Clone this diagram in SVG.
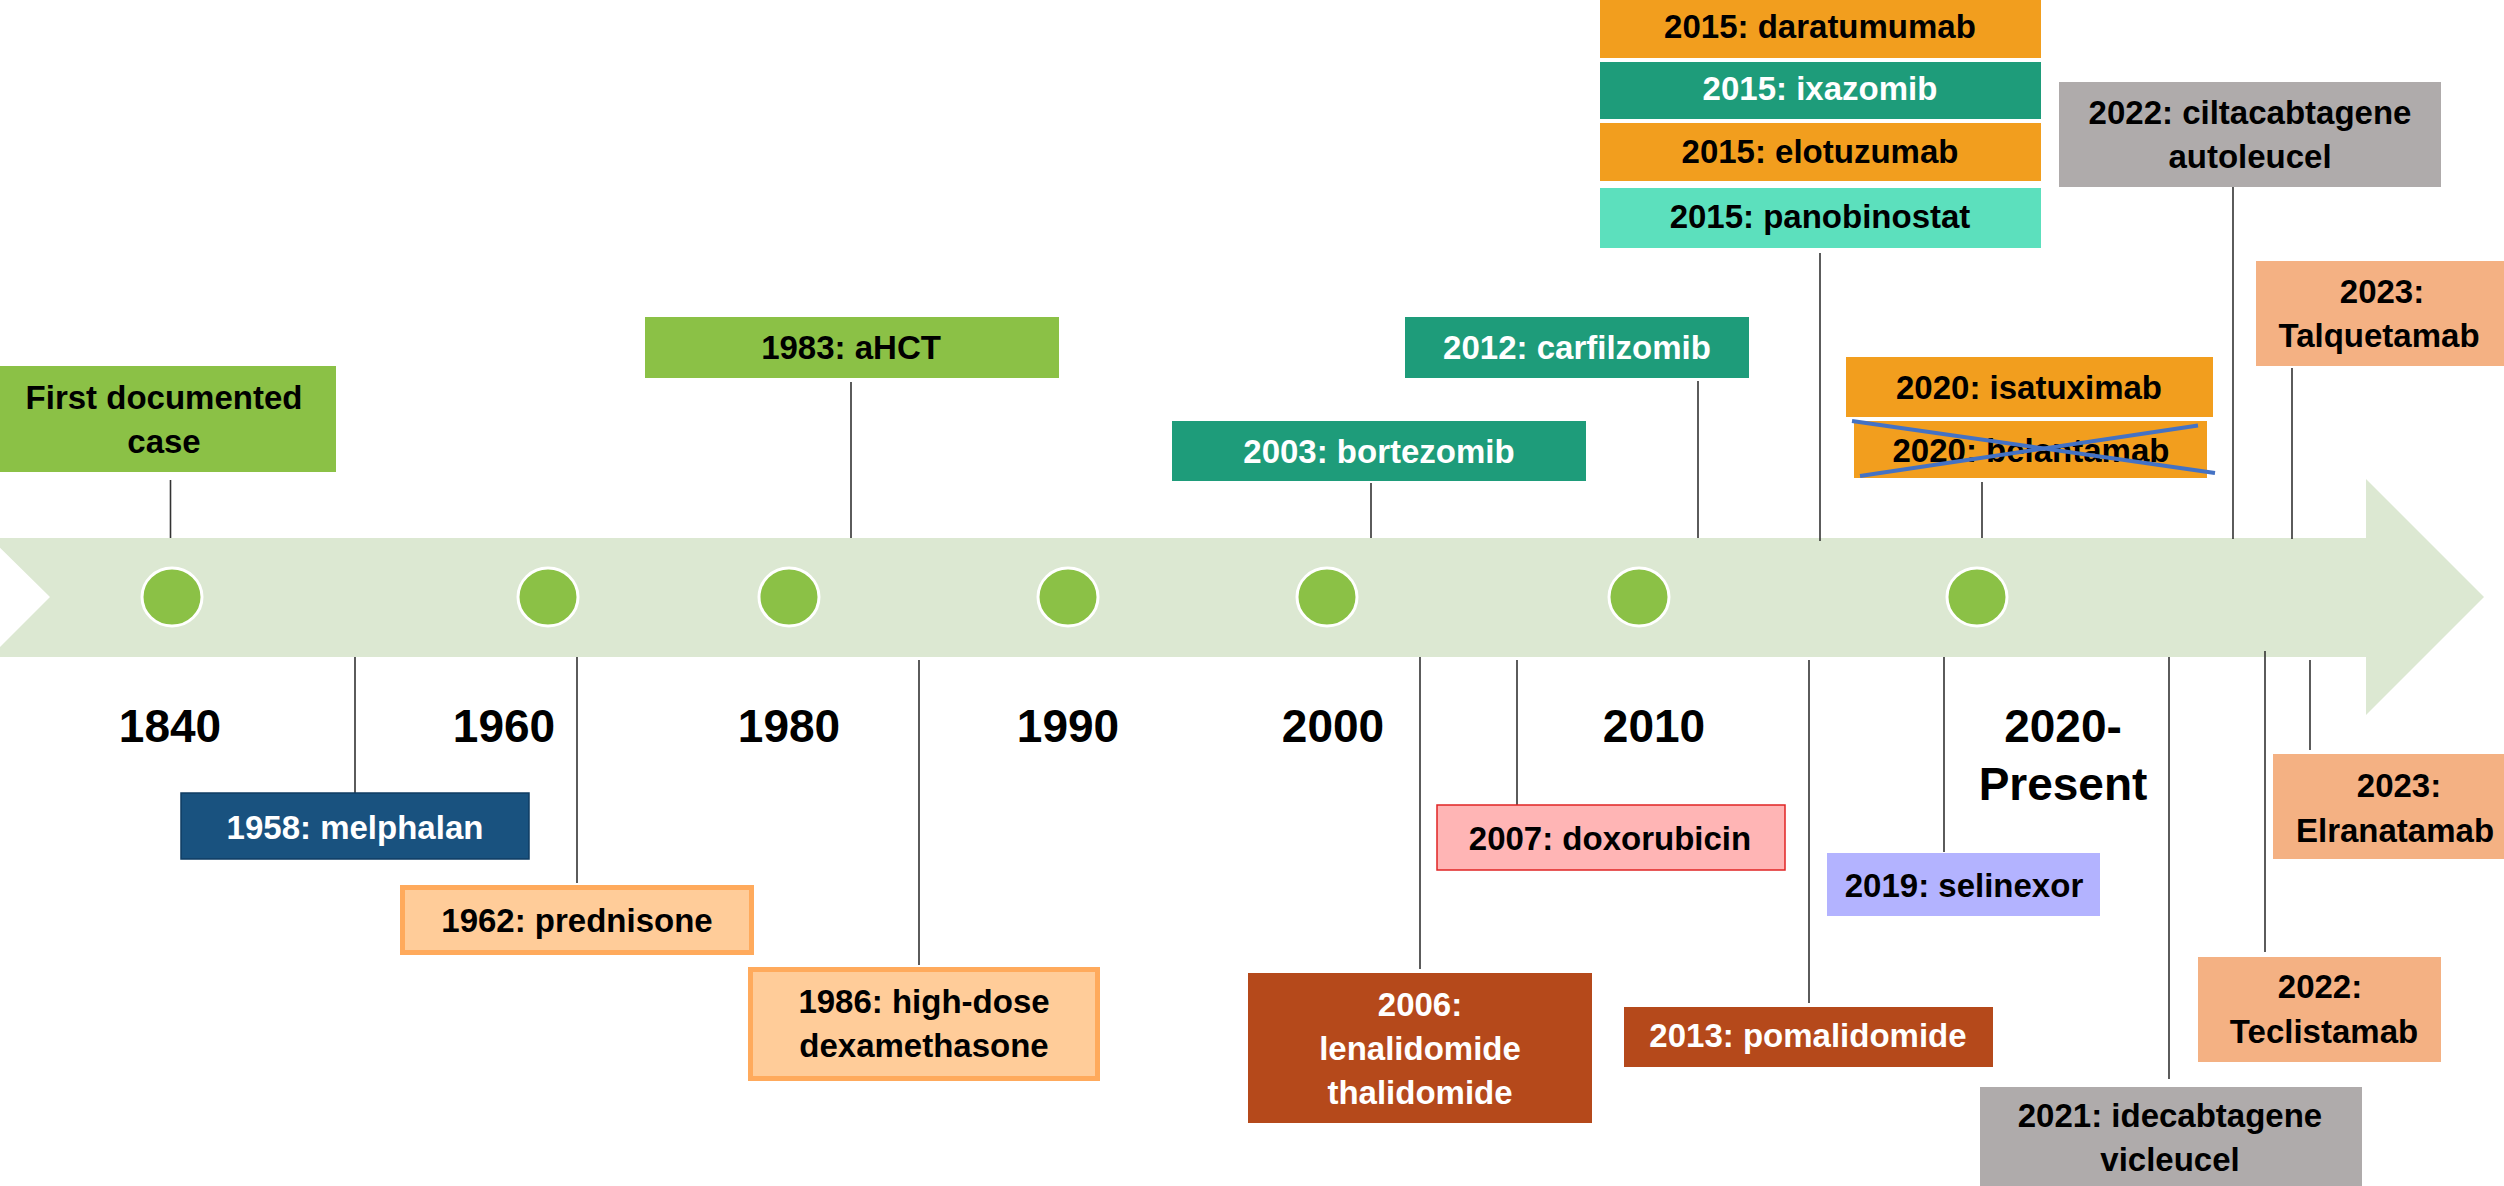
<svg xmlns="http://www.w3.org/2000/svg" width="2504" height="1186" viewBox="0 0 2504 1186">
<style>
text{font-family:"Liberation Sans",Arial,sans-serif;font-weight:bold;text-anchor:middle}
.lbl{font-size:33px;fill:#000}
.w{fill:#fff}
.yr{font-size:46px;fill:#000}
.con line{stroke:#333;stroke-width:1.6}
.dot{fill:#8BC146;stroke:#fff;stroke-width:3}
.green{fill:#8BC146}
.teal{fill:#1E9C7A}
.orange{fill:#F29E1E}
.aqua{fill:#5CE0BD}
.grey{fill:#AFABAB}
.salmon{fill:#F4B183}
.rust{fill:#B5491B}
.navy{fill:#19527F;stroke:#0F3D63;stroke-width:1.5}
.peach{fill:#FFCC99;stroke:#FFAA5C;stroke-width:5}
.pink{fill:#FFB5B5;stroke:#E02424;stroke-width:1.5}
.lav{fill:#B3B3FF}
</style>
<rect width="2504" height="1186" fill="#fff"/>
<g id="timeline">
<polygon points="-10,538 2366,538 2366,479 2484,597 2366,715 2366,657 -10,657 50,597" fill="#DCE8D2"/>
<ellipse class="dot" cx="172" cy="597" rx="30" ry="29"/>
<ellipse class="dot" cx="548" cy="597" rx="30" ry="29"/>
<ellipse class="dot" cx="789" cy="597" rx="30" ry="29"/>
<ellipse class="dot" cx="1068" cy="597" rx="30" ry="29"/>
<ellipse class="dot" cx="1327" cy="597" rx="30" ry="29"/>
<ellipse class="dot" cx="1639" cy="597" rx="30" ry="29"/>
<ellipse class="dot" cx="1977" cy="597" rx="30" ry="29"/>
<text class="yr" x="170" y="742">1840</text>
<text class="yr" x="504" y="742">1960</text>
<text class="yr" x="789" y="742">1980</text>
<text class="yr" x="1068" y="742">1990</text>
<text class="yr" x="1333" y="742">2000</text>
<text class="yr" x="1654" y="742">2010</text>
<text class="yr" x="2063" y="742">2020-</text>
<text class="yr" x="2063" y="800">Present</text>
</g>
<g id="connectors" class="con">
<line x1="170.5" y1="480" x2="170.5" y2="538"/>
<line x1="851" y1="382" x2="851" y2="538"/>
<line x1="1371" y1="483" x2="1371" y2="538"/>
<line x1="1698" y1="381" x2="1698" y2="538"/>
<line x1="1820" y1="253" x2="1820" y2="541"/>
<line x1="1982" y1="482" x2="1982" y2="538"/>
<line x1="2233" y1="186" x2="2233" y2="539"/>
<line x1="2292" y1="368" x2="2292" y2="539"/>
<line x1="355" y1="657" x2="355" y2="793"/>
<line x1="577" y1="657" x2="577" y2="883"/>
<line x1="919" y1="660" x2="919" y2="965"/>
<line x1="1420" y1="657" x2="1420" y2="969"/>
<line x1="1517" y1="660" x2="1517" y2="805"/>
<line x1="1809" y1="660" x2="1809" y2="1003"/>
<line x1="1944" y1="657" x2="1944" y2="852"/>
<line x1="2169" y1="657" x2="2169" y2="1079"/>
<line x1="2265" y1="651" x2="2265" y2="952"/>
<line x1="2310" y1="660" x2="2310" y2="750"/>
</g>
<g id="n1840">
<rect class="green" x="-2" y="366" width="338" height="106"/>
<text class="lbl" x="164" y="409">First documented</text>
<text class="lbl" x="164" y="453">case</text>
</g>
<g id="n1983">
<rect class="green" x="645" y="317" width="414" height="61"/>
<text class="lbl" x="851" y="359">1983: aHCT</text>
</g>
<g id="n2003">
<rect class="teal" x="1172" y="421" width="414" height="60"/>
<text class="lbl w" x="1379" y="463">2003: bortezomib</text>
</g>
<g id="n2012">
<rect class="teal" x="1405" y="317" width="344" height="61"/>
<text class="lbl w" x="1577" y="359">2012: carfilzomib</text>
</g>
<g id="n2015a">
<rect class="orange" x="1600" y="-2" width="441" height="60"/>
<text class="lbl" x="1820" y="38">2015: daratumumab</text>
</g>
<g id="n2015b">
<rect class="teal" x="1600" y="62" width="441" height="57"/>
<text class="lbl w" x="1820" y="100">2015: ixazomib</text>
</g>
<g id="n2015c">
<rect class="orange" x="1600" y="123" width="441" height="58"/>
<text class="lbl" x="1820" y="163">2015: elotuzumab</text>
</g>
<g id="n2015d">
<rect class="aqua" x="1600" y="188" width="441" height="60"/>
<text class="lbl" x="1820" y="228">2015: panobinostat</text>
</g>
<g id="n2020a">
<rect class="orange" x="1846" y="357" width="367" height="60"/>
<text class="lbl" x="2029" y="399">2020: isatuximab</text>
</g>
<g id="n2020b">
<rect class="orange" x="1854" y="421" width="353" height="57"/>
<text class="lbl" x="2031" y="462">2020: belantamab</text>
<line x1="1852" y1="421" x2="2215" y2="473" stroke="#4472C4" stroke-width="4"/>
<line x1="1860" y1="476" x2="2198" y2="425.5" stroke="#4472C4" stroke-width="4"/>
</g>
<g id="n2022c">
<rect class="grey" x="2059" y="82" width="382" height="105"/>
<text class="lbl" x="2250" y="124">2022: ciltacabtagene</text>
<text class="lbl" x="2250" y="168">autoleucel</text>
</g>
<g id="n2023t">
<rect class="salmon" x="2256" y="261" width="250" height="105"/>
<text class="lbl" x="2382" y="303">2023:</text>
<text class="lbl" x="2379" y="347">Talquetamab</text>
</g>
<g id="n1958">
<rect class="navy" x="181" y="793" width="348" height="66"/>
<text class="lbl w" x="355" y="839">1958: melphalan</text>
</g>
<g id="n1962">
<rect class="peach" x="402.5" y="887.5" width="349" height="65"/>
<text class="lbl" x="577" y="932">1962: prednisone</text>
</g>
<g id="n1986">
<rect class="peach" x="750.5" y="969.5" width="347" height="109"/>
<text class="lbl" x="924" y="1013">1986: high-dose</text>
<text class="lbl" x="924" y="1057">dexamethasone</text>
</g>
<g id="n2006">
<rect class="rust" x="1248" y="973" width="344" height="150"/>
<text class="lbl w" x="1420" y="1016">2006:</text>
<text class="lbl w" x="1420" y="1060">lenalidomide</text>
<text class="lbl w" x="1420" y="1104">thalidomide</text>
</g>
<g id="n2007">
<rect class="pink" x="1437" y="805" width="348" height="65"/>
<text class="lbl" x="1610" y="850">2007: doxorubicin</text>
</g>
<g id="n2013">
<rect class="rust" x="1624" y="1007" width="369" height="60"/>
<text class="lbl w" x="1808" y="1047">2013: pomalidomide</text>
</g>
<g id="n2019">
<rect class="lav" x="1827" y="853" width="273" height="63"/>
<text class="lbl" x="1964" y="897">2019: selinexor</text>
</g>
<g id="n2021">
<rect class="grey" x="1980" y="1087" width="382" height="102"/>
<text class="lbl" x="2170" y="1127">2021: idecabtagene</text>
<text class="lbl" x="2170" y="1171">vicleucel</text>
</g>
<g id="n2022t">
<rect class="salmon" x="2198" y="957" width="243" height="105"/>
<text class="lbl" x="2320" y="998">2022:</text>
<text class="lbl" x="2324" y="1043">Teclistamab</text>
</g>
<g id="n2023e">
<rect class="salmon" x="2273" y="754" width="235" height="105"/>
<text class="lbl" x="2399" y="797">2023:</text>
<text class="lbl" x="2395" y="842">Elranatamab</text>
</g>
</svg>
